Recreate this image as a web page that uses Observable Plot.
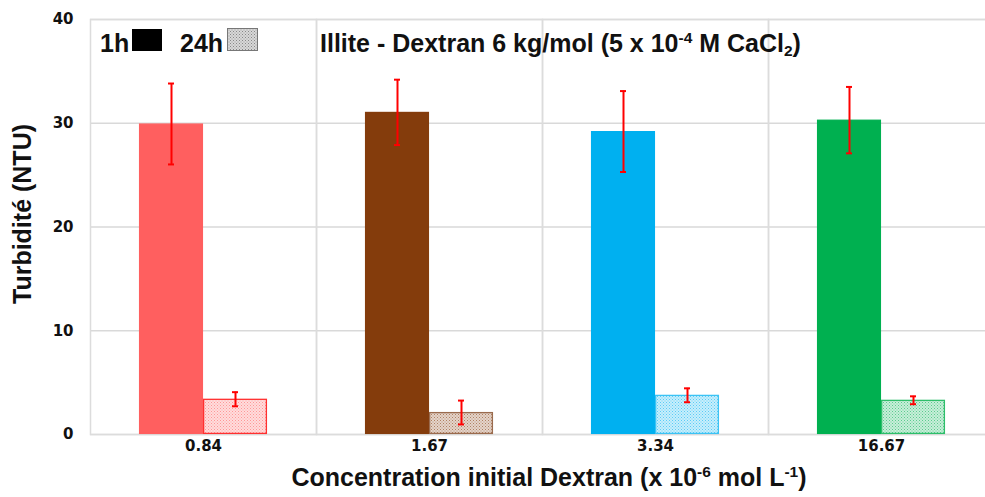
<!DOCTYPE html>
<html><head><meta charset="utf-8">
<script src="https://cdn.jsdelivr.net/npm/d3@7"></script>
<script src="https://cdn.jsdelivr.net/npm/@observablehq/plot@0.6"></script>
<style>
html,body{margin:0;padding:0;background:#fff;overflow:hidden}
#wrap{position:relative;width:985px;height:497px;font-family:'Liberation Sans',Arial,sans-serif;font-weight:bold;color:#111}
#wrap svg.plot{position:absolute;left:0;top:0}
.t{position:absolute;white-space:nowrap;line-height:1;font-size:25px}
sup,sub{font-size:0.62em;line-height:0}
sup{vertical-align:0.55em}
sub{vertical-align:-0.25em}
</style></head><body>
<div id="wrap">
  <div id="chart"></div>
  <div class="t" style="left:100px;top:31px">1h</div>
  <div style="position:absolute;left:132px;top:29px;width:30px;height:22px;background:#000"></div>
  <div class="t" style="left:180px;top:31px">24h</div>
  <svg style="position:absolute;left:227px;top:28px" width="31" height="23">
    <defs><pattern id="hatchLegend" width="3" height="3" patternUnits="userSpaceOnUse">
      <rect width="3" height="3" fill="#d8d8d8"/><rect width="1" height="1" fill="#888"/><rect x="1.5" y="1.5" width="1" height="1" fill="#999"/>
    </pattern></defs>
    <rect x="0.5" y="0.5" width="30" height="22" fill="url(#hatchLegend)" stroke="#777" stroke-width="1"/>
  </svg>
  <div class="t" style="left:320px;top:31px">Illite - Dextran 6 kg/mol (5 x 10<sup>-4</sup> M CaCl<sub>2</sub>)</div>
  <div class="t" id="ylab" style="left:22px;top:214px;transform:translate(-50%,-50%) rotate(-90deg)">Turbidité (NTU)</div>
  <div class="t" id="xlab" style="left:549px;top:465px;transform:translateX(-50%)">Concentration initial Dextran (x 10<sup>-6</sup> mol L<sup>-1</sup>)</div>
</div>
<script>
const concentrations = ["0.84", "1.67", "3.34", "16.67"];
const times = ["1h", "24h"];
const mean1h = [29.93, 31.05, 29.2, 30.3];
const sd1h = [3.9, 3.15, 3.9, 3.2];
const mean24h = [3.4, 2.12, 3.78, 3.3];
const sd24h = [0.68, 1.15, 0.67, 0.38];
const colors = ["#FF5F5F", "#843C0C", "#00B0F0", "#00B050"];
const borderColors = ["#FF3030", "#9A6B4E", "#3CC3F4", "#2DBE6A"];
const yTicks = [0, 10, 20, 30, 40];

const rows = [];
concentrations.forEach((c, i) => {
  rows.push({conc: c, time: "1h", mean: mean1h[i], sd: sd1h[i], fill: colors[i], stroke: colors[i]});
  rows.push({conc: c, time: "24h", mean: mean24h[i], sd: sd24h[i], fill: `url(#hatch${i})`, stroke: borderColors[i]});
});

const svg = Plot.plot({
  width: 985,
  height: 497,
  marginLeft: 89,
  marginRight: -10,
  marginTop: 19,
  marginBottom: 63,
  style: {fontFamily: "'DejaVu Sans', sans-serif", fontSize: "15px", fontWeight: "bold", color: "#111", background: "transparent"},
  fx: {domain: concentrations, padding: 0, label: null, axis: "bottom", tickSize: 0, tickPadding: 6},
  x: {domain: times, paddingInner: 0, paddingOuter: 0.746, axis: null},
  y: {domain: [0, 40], label: null, axis: null},
  color: {type: "identity"},
  marks: [
    Plot.gridY(yTicks, {stroke: "#d9d9d9", strokeOpacity: 1, strokeWidth: 1.5}),
    Plot.frame({stroke: "#dcdcdc", strokeWidth: 1.5}),
    Plot.axisY(yTicks, {tickSize: 0, tickPadding: 17, label: null, fontSize: 15, fontWeight: "bold"}),
    Plot.barY(rows, {fx: "conc", x: "time", y: "mean", fill: "fill", stroke: "stroke", strokeWidth: 1.3, inset: 0.6}),
    Plot.ruleX(rows, {fx: "conc", x: "time", y1: d => d.mean - d.sd, y2: d => d.mean + d.sd, stroke: "#FF0000", strokeWidth: 2}),
    Plot.tickY(rows, {fx: "conc", x: "time", y: d => d.mean - d.sd, stroke: "#FF0000", strokeWidth: 2, inset: 29}),
    Plot.tickY(rows, {fx: "conc", x: "time", y: d => d.mean + d.sd, stroke: "#FF0000", strokeWidth: 2, inset: 29})
  ]
});

const defs = d3.select(svg).insert("defs", ":first-child");
colors.forEach((c, i) => {
  const p = defs.append("pattern").attr("id", `hatch${i}`).attr("width", 3).attr("height", 3).attr("patternUnits", "userSpaceOnUse");
  p.append("rect").attr("width", 3).attr("height", 3).attr("fill", "#fff");
  p.append("rect").attr("width", 3).attr("height", 3).attr("fill", c).attr("fill-opacity", 0.22);
  p.append("rect").attr("width", 1).attr("height", 1).attr("fill", c).attr("fill-opacity", 0.55);
  p.append("rect").attr("x", 1.5).attr("y", 1.5).attr("width", 1).attr("height", 1).attr("fill", c).attr("fill-opacity", 0.45);
});
document.getElementById("chart").appendChild(svg);
</script>
</body></html>
